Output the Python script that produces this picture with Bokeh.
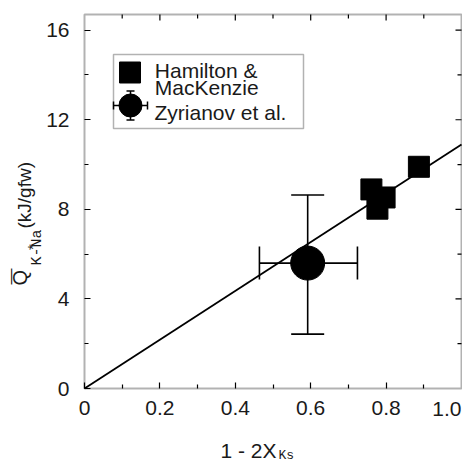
import math
from bokeh.plotting import figure
from bokeh.models import (ColumnDataSource, Whisker, TeeHead, Label, BoxAnnotation,
                          FixedTicker, Range1d)
from bokeh.embed import file_html
from bokeh.resources import INLINE

# ---------------- data ----------------
ham_x = [0.761, 0.777, 0.796, 0.887]
ham_y = [8.89, 8.03, 8.53, 9.90]

zyr_x = [0.592]
zyr_y = [5.6]
zyr_x_lo = [0.464]
zyr_x_hi = [0.724]
zyr_y_lo = [2.43]
zyr_y_hi = [8.64]

fit_x = [0.0, 1.0]
fit_y = [0.0, 10.9]

x_major = [0, 0.2, 0.4, 0.6, 0.8, 1.0]
x_minor = [0.1, 0.3, 0.5, 0.7, 0.9]
x_tick_labels = ["0", "0.2", "0.4", "0.6", "0.8", "1.0"]
y_major = [0, 4, 8, 12, 16]
y_minor = [2, 6, 10, 14]
y_tick_labels = ["0", "4", "8", "12", "16"]

legend_labels = ["Hamilton &", "MacKenzie", "Zyrianov et al."]
x_title = ["1 - 2X", "Ks"]
y_title = ["Q", "*", "K-Na", "(kJ/gfw)"]

X_END = 1.0
Y_END = 16.7

# ---------------- layout (pixels) ----------------
W, H = 462, 464
PL, PR, PT, PB = 84, 461, 14, 388          # plot box on the canvas
SX = (PR - PL) / X_END                      # px per x unit
SY = (PB - PT) / Y_END                      # px per y unit
FONT = "Liberation Sans"
MONO = "Liberation Mono"
TXT = "#1a1a1a"
BASE = 0.35                                  # baseline correction (fraction of font size)

p = figure(width=W, height=H, output_backend="svg", toolbar_location=None,
           x_range=Range1d(-PL / SX, (W - PL) / SX),
           y_range=Range1d(-(H - PB) / SY, PB / SY),
           min_border=0, min_border_left=0, min_border_right=0,
           min_border_top=0, min_border_bottom=0,
           background_fill_color="white", border_fill_color="white")
p.grid.visible = False
p.outline_line_color = None

def px_x(X):      # canvas px -> data x
    return (X - PL) / SX

def px_y(Y):      # canvas px -> data y
    return (PB - Y) / SY

# axes drawn at the plot box edges
def style_axis(ax, ticks, minor, labels, standoff):
    ax.fixed_location = 0
    ax.ticker = FixedTicker(ticks=ticks, minor_ticks=minor)
    ax.axis_line_color = None
    ax.major_tick_in = 6
    ax.major_tick_out = 0
    ax.minor_tick_in = 4
    ax.minor_tick_out = 0
    ax.major_tick_line_color = "black"
    ax.minor_tick_line_color = "black"
    ax.major_tick_line_width = 1.2
    ax.minor_tick_line_width = 1.2
    ax.major_label_text_font = FONT
    ax.major_label_text_font_size = "21px"
    ax.major_label_text_color = TXT
    ax.major_label_standoff = standoff
    ax.major_label_overrides = {t: l for t, l in zip(ticks, labels)}

# bottom axis: the 1.0 tick sits on the frame edge; its label is placed so it stays on the page
style_axis(p.xaxis[0], x_major[:-1], x_minor, x_tick_labels[:-1], 12)
style_axis(p.yaxis[0], y_major, y_minor, y_tick_labels, 15)

# plot box
p.add_layout(BoxAnnotation(left=0, right=X_END, bottom=0, top=Y_END,
                           fill_alpha=0, line_color="black", line_width=2, level="overlay"))

# top / right inward ticks
tl_maj, tl_min = 6 / SY, 4 / SY
rl_maj, rl_min = 6 / SX, 4 / SX
tx = x_major[1:-1]
p.segment(x0=tx, y0=[Y_END] * len(tx), x1=tx, y1=[Y_END - tl_maj] * len(tx),
          line_color="black", line_width=1.2)
p.segment(x0=x_minor, y0=[Y_END] * len(x_minor), x1=x_minor, y1=[Y_END - tl_min] * len(x_minor),
          line_color="black", line_width=1.2)
ry = y_major[1:]
p.segment(x0=[X_END] * len(ry), y0=ry, x1=[X_END - rl_maj] * len(ry), y1=ry,
          line_color="black", line_width=1.2)
p.segment(x0=[X_END] * len(y_minor), y0=y_minor, x1=[X_END - rl_min] * len(y_minor), y1=y_minor,
          line_color="black", line_width=1.2)

# ---------------- data glyphs ----------------
p.line(fit_x, fit_y, line_color="black", line_width=1.8)

zsrc = ColumnDataSource(dict(x=zyr_x, y=zyr_y, xlo=zyr_x_lo, xhi=zyr_x_hi,
                             ylo=zyr_y_lo, yhi=zyr_y_hi))
for dim, base, lo, hi in (("height", "x", "ylo", "yhi"), ("width", "y", "xlo", "xhi")):
    p.add_layout(Whisker(source=zsrc, base=base, lower=lo, upper=hi, dimension=dim,
                         line_color="black", line_width=1.6,
                         lower_head=TeeHead(size=33, line_width=1.6),
                         upper_head=TeeHead(size=33, line_width=1.6), level="glyph"))
p.scatter("x", "y", source=zsrc, marker="circle", size=34, fill_color="black", line_color="black")

p.scatter(ham_x, ham_y, marker="square", size=21, fill_color="black", line_color="black")

# ---------------- legend ----------------
p.add_layout(BoxAnnotation(left=113, right=303, top=H - 54, bottom=H - 128,
                           left_units="screen", right_units="screen",
                           top_units="screen", bottom_units="screen",
                           fill_alpha=0, line_color="black", line_width=1.5, level="overlay"))
p.scatter([px_x(129.5)], [px_y(72)], marker="square", size=21, fill_color="black", line_color="black")
lsrc = ColumnDataSource(dict(x=[px_x(130)], y=[px_y(105)],
                             xlo=[px_x(130 - 17)], xhi=[px_x(130 + 17)],
                             ylo=[px_y(105 + 14.5)], yhi=[px_y(105 - 14.5)]))
for dim, base, lo, hi in (("height", "x", "ylo", "yhi"), ("width", "y", "xlo", "xhi")):
    p.add_layout(Whisker(source=lsrc, base=base, lower=lo, upper=hi, dimension=dim,
                         line_color="black", line_width=1.5,
                         lower_head=TeeHead(size=8, line_width=1.5),
                         upper_head=TeeHead(size=8, line_width=1.5), level="glyph"))
p.scatter("x", "y", source=lsrc, marker="circle", size=23, fill_color="black", line_color="black")

def lab(text, X, Y, size, font=FONT, rotated=False, align="left"):
    """Place text with its baseline start at canvas pixel (X, Y)."""
    if rotated:
        x, y, ang = X - BASE * size, H - Y, math.pi / 2
    else:
        x, y, ang = X, H - Y + BASE * size, 0.0
    p.add_layout(Label(x=x, y=y, x_units="screen", y_units="screen", text=text,
                       text_font=font, text_font_size=f"{size}px", text_color=TXT,
                       text_align=align, text_baseline="alphabetic", angle=ang,
                       level="overlay"))

lab(legend_labels[0], 154.3, 77.3, 21)
lab(legend_labels[1], 154.3, 94.3, 21)
lab(legend_labels[2], 154.0, 119.0, 21)

lab(x_tick_labels[-1], 461, 415.5, 21, align="right")

lab(x_title[0], 220, 457, 21)
lab(x_title[1], 278, 459.5, 13, font=MONO)

lab(y_title[0], 26, 285, 20, rotated=True)
lab("\u2014", 15.7, 284, 16, rotated=True)
lab(y_title[1], 36.8, 249.4, 15, rotated=True)
lab(y_title[2], 42, 265, 15, font=MONO, rotated=True)
lab(y_title[3], 31, 228, 19, rotated=True)

open("out.html", "w").write(file_html(p, INLINE))
